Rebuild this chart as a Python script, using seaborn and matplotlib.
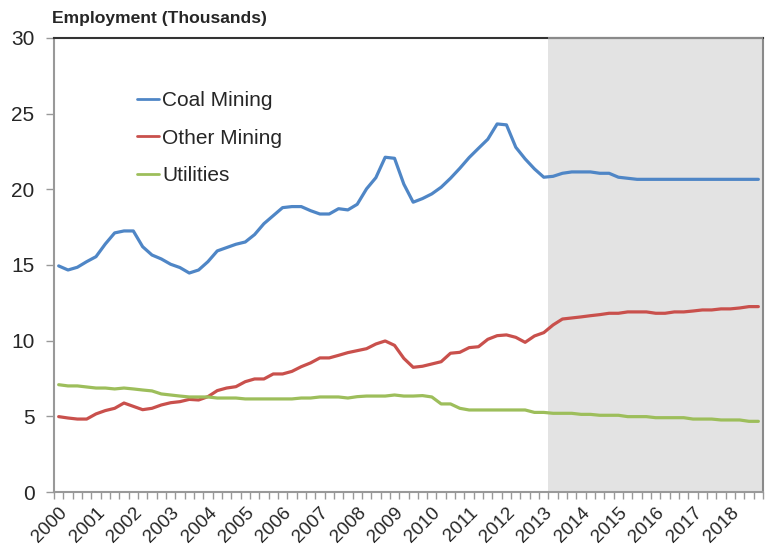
import matplotlib
matplotlib.use("Agg")
import matplotlib.pyplot as plt
import numpy as np
import pandas as pd
import seaborn as sns

# quarterly values, 2000 Q1 .. 2018 Q4
years = list(range(2000, 2019))
quarters = [f"{y} Q{q}" for y in years for q in range(1, 5)]

coal_mining = [
    14.94, 14.67, 14.85, 15.22, 15.55, 16.39, 17.12, 17.25, 17.25, 16.21,
    15.66, 15.40, 15.05, 14.83, 14.47, 14.67, 15.22, 15.93, 16.15, 16.37,
    16.52, 17.01, 17.73, 18.26, 18.79, 18.86, 18.86, 18.59, 18.37, 18.37,
    18.72, 18.64, 19.01, 20.03, 20.77, 22.12, 22.05, 20.34, 19.15, 19.39,
    19.70, 20.14, 20.73, 21.39, 22.10, 22.71, 23.31, 24.32, 24.26, 22.78,
    22.01, 21.35, 20.80, 20.86, 21.06, 21.15, 21.15, 21.15, 21.06, 21.06,
    20.80, 20.73, 20.66, 20.66, 20.66, 20.66, 20.66, 20.66, 20.66, 20.66,
    20.66, 20.66, 20.66, 20.66, 20.66, 20.66,
]
other_mining = [
    4.98, 4.89, 4.82, 4.82, 5.16, 5.38, 5.53, 5.88, 5.66, 5.44,
    5.53, 5.75, 5.90, 5.97, 6.12, 6.08, 6.30, 6.70, 6.87, 6.96,
    7.29, 7.47, 7.47, 7.80, 7.80, 7.97, 8.28, 8.53, 8.86, 8.86,
    9.03, 9.21, 9.34, 9.47, 9.78, 9.98, 9.69, 8.83, 8.24, 8.31,
    8.46, 8.61, 9.17, 9.23, 9.54, 9.60, 10.09, 10.33, 10.38, 10.22,
    9.89, 10.31, 10.53, 11.04, 11.43, 11.50, 11.57, 11.65, 11.72, 11.81,
    11.81, 11.90, 11.90, 11.90, 11.81, 11.81, 11.90, 11.90, 11.96, 12.03,
    12.03, 12.10, 12.10, 12.16, 12.25, 12.25,
]
utilities = [
    7.09, 7.01, 7.01, 6.94, 6.87, 6.87, 6.81, 6.87, 6.81, 6.74,
    6.68, 6.48, 6.41, 6.34, 6.28, 6.28, 6.28, 6.21, 6.21, 6.21,
    6.15, 6.15, 6.15, 6.15, 6.15, 6.15, 6.21, 6.21, 6.28, 6.28,
    6.28, 6.21, 6.30, 6.34, 6.34, 6.34, 6.41, 6.34, 6.34, 6.37,
    6.28, 5.82, 5.82, 5.53, 5.42, 5.42, 5.42, 5.42, 5.42, 5.42,
    5.42, 5.26, 5.26, 5.20, 5.20, 5.20, 5.13, 5.13, 5.07, 5.07,
    5.07, 4.98, 4.98, 4.98, 4.91, 4.91, 4.91, 4.91, 4.82, 4.82,
    4.82, 4.76, 4.76, 4.76, 4.67, 4.67,
]

series_names = ["Coal Mining", "Other Mining", "Utilities"]
colors = ["#4F86C6", "#C9504C", "#9DBE5B"]
forecast_start = "2013 Q1"

n = len(quarters)
df = pd.DataFrame({
    "idx": np.tile(np.arange(n), 3),
    "value": coal_mining + other_mining + utilities,
    "series": np.repeat(series_names, n),
})

sns.set_style("white")
plt.rcParams["font.family"] = ["Liberation Sans", "DejaVu Sans"]

fig = plt.figure(figsize=(7.65, 5.53), dpi=100)
ax = fig.add_axes([0.0706, 0.1103, 0.9268, 0.821])

# shaded forecast region (grey border only on top and right)
fs = quarters.index(forecast_start)
ax.axvspan(fs + 0.42, n - 0.5, facecolor="#E3E3E3", edgecolor="none",
           zorder=1)

sns.lineplot(data=df, x="idx", y="value", hue="series", palette=colors,
             linewidth=2.3, ax=ax, legend=False, zorder=3)

ax.set_xlim(-0.5, n - 0.5)
ax.set_ylim(0, 30)
ax.plot([fs + 0.42, n - 0.5], [30, 30], color="#8A8A8A", linewidth=1.5,
        clip_on=False, zorder=4, solid_capstyle="butt")
ax.set_yticks(range(0, 31, 5))
ax.set_xlabel("")
ax.set_ylabel("")

# year labels at the first quarter of each year, quarter ticks at bin edges
ax.set_xticks([quarters.index(f"{y} Q1") for y in years])
ax.set_xticklabels([str(y) for y in years], rotation=45, ha="right",
                   rotation_mode="anchor", fontsize=13.5)
ax.set_xticks(np.arange(-0.5, n, 1), minor=True)
ax.tick_params(axis="x", which="major", length=0, pad=9)
ax.tick_params(axis="x", which="minor", length=5, width=1, color="#999999",
               direction="out", bottom=True)
ax.tick_params(axis="y", length=6, width=1, color="#999999", direction="out",
               left=True, labelsize=15, pad=8)

for side in ["left", "bottom"]:
    ax.spines[side].set_color("#999999")
    ax.spines[side].set_linewidth(1.5)
ax.spines["top"].set_color("#333333")
ax.spines["top"].set_linewidth(1.5)
ax.spines["right"].set_color("#8A8A8A")
ax.spines["right"].set_linewidth(1.5)

handles = [plt.Line2D([], [], color=c, linewidth=2) for c in colors]
ax.legend(handles, series_names, loc="upper left", bbox_to_anchor=(0.091, 0.925),
          frameon=False, fontsize=15, handlelength=1.05, handletextpad=0.15,
          labelspacing=0.9)

fig.text(0.068, 0.966, "Employment (Thousands)", fontsize=12.6,
         fontweight="bold", va="center", ha="left")

fig.savefig("out.png", dpi=100)
